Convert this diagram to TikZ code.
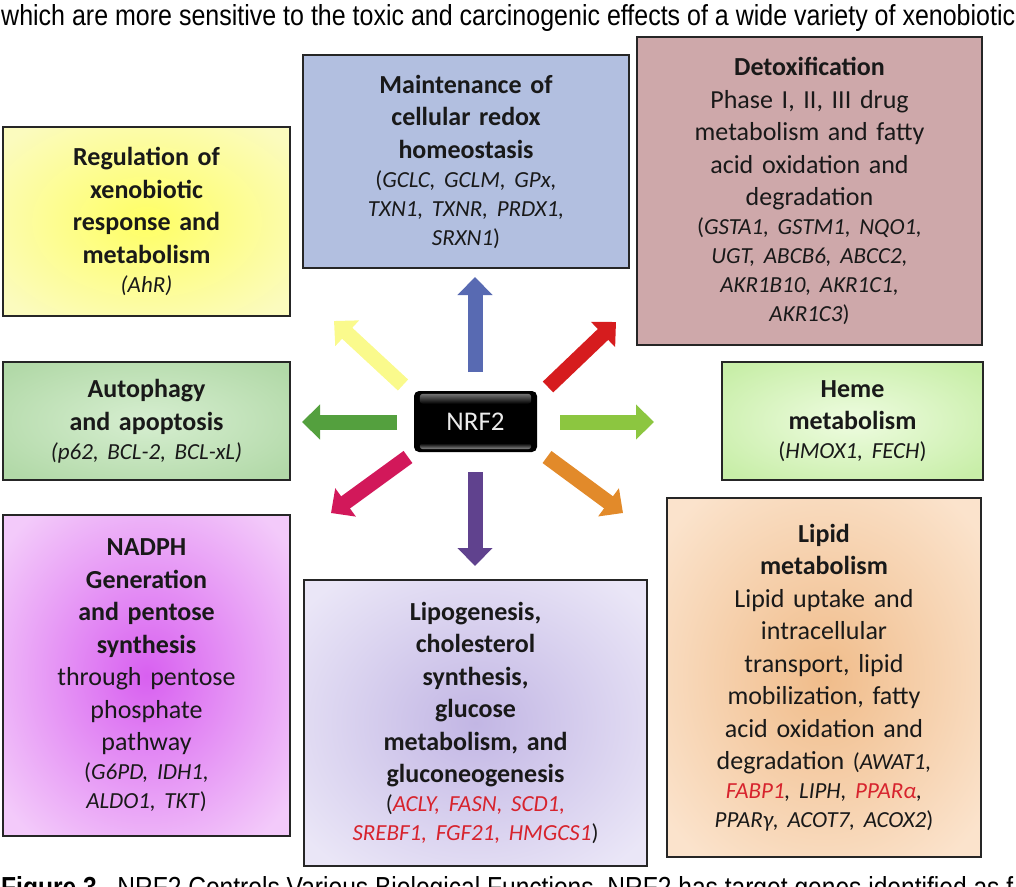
\documentclass[tikz,border=0pt]{standalone}
\usepackage{fontspec}
\setmainfont{Carlito}
\newfontfamily\arialf{Liberation Sans}
\usetikzlibrary{arrows.meta,shadings}
\frenchspacing
\colorlet{gin}{white}\colorlet{gout}{white}
\pgfdeclareradialshading[gin,gout]{boxrad}{\pgfpoint{0bp}{0bp}}{color(0bp)=(gin);color(32bp)=(gout);color(50bp)=(gout)}
\definecolor{regin}{RGB}{255,255,100}\definecolor{regout}{RGB}{251,251,190}
\definecolor{redoxc}{RGB}{178,191,224}
\definecolor{detoxc}{RGB}{206,168,170}
\definecolor{autin}{RGB}{214,238,208}\definecolor{autout}{RGB}{178,217,168}
\definecolor{hemin}{RGB}{238,252,224}\definecolor{hemout}{RGB}{200,238,168}
\definecolor{nadin}{RGB}{216,96,240}\definecolor{nadout}{RGB}{243,202,250}
\definecolor{lpgin}{RGB}{194,182,228}\definecolor{lpgout}{RGB}{234,230,247}
\definecolor{lpdin}{RGB}{240,188,138}\definecolor{lpdout}{RGB}{251,227,204}
\definecolor{genered}{RGB}{215,35,45}
\definecolor{arblue}{RGB}{88,106,178}
\definecolor{arpurple}{RGB}{96,66,142}
\definecolor{argreen}{RGB}{84,160,62}
\definecolor{arlgreen}{RGB}{140,198,64}
\definecolor{aryellow}{RGB}{250,250,140}
\definecolor{arred}{RGB}{214,28,30}
\definecolor{arcrimson}{RGB}{210,24,90}
\definecolor{arorange}{RGB}{226,138,42}
\newcommand\tf{\fontsize{26}{32.5}\selectfont}
\newcommand\gf{\fontsize{23}{29}\selectfont\itshape}
\newcommand\rg[1]{\textcolor{genered}{#1}}
\tikzset{
  box/.style={draw=black!85, line width=1.5pt, inner sep=0pt, align=center,
    text=black!90, font=\tf},
  grad/.style 2 args={/utils/exec={\colorlet{gin}{#1}\colorlet{gout}{#2}}, shading=boxrad, shade},
  arr/.style={line width=15pt, -{Triangle[length=18pt,width=34pt]}},
  nrfbox/.style={fill=black, rounded corners=5pt, minimum width=123pt, minimum height=61pt,
    inner sep=0pt, text=black!8, font=\fontsize{27}{30}\selectfont},
}
\begin{document}
\begin{tikzpicture}[x=1pt,y=-1pt]
\useasboundingbox (0,0) rectangle (1016,886);
\clip (0,0) rectangle (1016,886);
% top text and caption
\node[anchor=base west, inner sep=0pt] (toptext) at (1,25)
  {\resizebox{1014pt}{21pt}{\arialf which are more sensitive to the toxic and carcinogenic effects of a wide variety of xenobiotic}};
\node[anchor=base west, inner sep=0pt] (caption) at (1,897)
  {\resizebox{1012pt}{21pt}{\arialf\textbf{Figure 3.}\ \ NRF2 Controls Various Biological Functions. NRF2 has target genes identified as f}};
% boxes
\node[box, grad={regin}{regout}, minimum width=287pt, minimum height=189pt, text width=283pt] (reg) at (146.5,221.5)
  {{\textbf{Regulation of\\xenobiotic\\response and\\metabolism}\par}{\gf(AhR)\par}};
\node[box, fill=redoxc, minimum width=326pt, minimum height=213pt, text width=320pt] (redox) at (466,161.5)
  {{\textbf{Maintenance of\\cellular redox\\homeostasis}\par}{\gf\upshape(\textit{GCLC, GCLM, GPx,}\\\textit{TXN1, TXNR, PRDX1,}\\\textit{SRXN1})\par}};
\node[box, fill=detoxc, minimum width=345pt, minimum height=308pt, text width=340pt] (detox) at (809.5,191)
  {{\textbf{Detoxification}\\Phase I, II, III drug\\metabolism and fatty\\acid oxidation and\\degradation\par}{\gf\upshape(\textit{GSTA1, GSTM1, NQO1,}\\\textit{UGT, ABCB6, ABCC2,}\\\textit{AKR1B10, AKR1C1,}\\\textit{AKR1C3})\par}};
\node[box, grad={autin}{autout}, minimum width=287pt, minimum height=118pt, text width=283pt] (auto) at (146.5,421)
  {{\textbf{Autophagy\\and apoptosis}\par}{\gf(p62, BCL-2, BCL-xL)\par}};
\node[box, grad={hemin}{hemout}, minimum width=261pt, minimum height=118pt, text width=256pt] (heme) at (852.5,421)
  {{\textbf{Heme\\metabolism}\par}{\gf\upshape(\textit{HMOX1, FECH})\par}};
\node[box, grad={nadin}{nadout}, minimum width=287pt, minimum height=321pt, text width=283pt] (nadph) at (146.5,675.5)
  {{\textbf{NADPH\\Generation\\and pentose\\synthesis}\\through pentose\\phosphate\\pathway\par}{\gf\upshape(\textit{G6PD, IDH1,}\\\textit{ALDO1, TKT})\par}};
\node[box, grad={lpgin}{lpgout}, minimum width=343pt, minimum height=286pt, text width=338pt] (lipo) at (475.5,723)
  {{\textbf{Lipogenesis,\\cholesterol\\synthesis,\\glucose\\metabolism, and\\gluconeogenesis}\par}{\gf\upshape(\textit{\rg{ACLY, FASN, SCD1,}}\\\textit{\rg{SREBF1, FGF21, HMGCS1}})\par}};
\node[box, grad={lpdin}{lpdout}, minimum width=314pt, minimum height=359pt, text width=310pt] (lipid) at (824,677.5)
  {{\textbf{Lipid\\metabolism}\\Lipid uptake and\\intracellular\\transport, lipid\\mobilization, fatty\\acid oxidation and\\degradation {\gf\upshape(\textit{AWAT1,}}\par}{\gf\rg{FABP1}, LIPH, \rg{PPARα},\\PPARγ, ACOT7, ACOX2\upshape)\par}};
% central node
\node[nrfbox] (nrf) at (475.5,421.5) {NRF2};
\fill[top color=black!55, bottom color=black, rounded corners=3pt]
  ([xshift=6pt,yshift=-3pt]nrf.north west) rectangle ([xshift=-6pt,yshift=-13pt]nrf.north east);
\fill[top color=black, bottom color=black!45, rounded corners=3pt]
  ([xshift=6pt,yshift=3pt]nrf.south west) rectangle ([xshift=-6pt,yshift=9pt]nrf.south east);
% arrow ends
\coordinate (tU) at (475,372);  \coordinate (hU) at (475,277);
\coordinate (tD) at (475,472);  \coordinate (hD) at (475,566);
\coordinate (tL) at (397,422);  \coordinate (hL) at (302,422);
\coordinate (tR) at (560,422);  \coordinate (hR) at (654,422);
\coordinate (tUL) at (403,385); \coordinate (hUL) at (334,321);
\coordinate (tUR) at (548,387); \coordinate (hUR) at (616,322);
\coordinate (tDL) at (408,457); \coordinate (hDL) at (331,513);
\coordinate (tDR) at (547,457); \coordinate (hDR) at (623,513);
\draw[arr, arblue] (tU) -- (hU);
\draw[arr, arpurple] (tD) -- (hD);
\draw[arr, argreen] (tL) -- (hL);
\draw[arr, arlgreen] (tR) -- (hR);
\draw[arr, aryellow] (tUL) -- (hUL);
\draw[arr, arred] (tUR) -- (hUR);
\draw[arr, arcrimson] (tDL) -- (hDL);
\draw[arr, arorange] (tDR) -- (hDR);
\end{tikzpicture}
\end{document}
